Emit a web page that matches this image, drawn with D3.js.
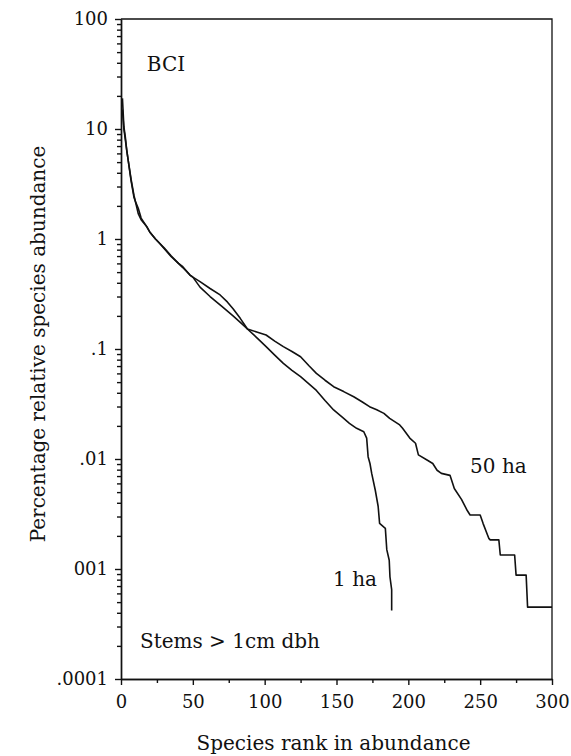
<!DOCTYPE html>
<html>
<head>
<meta charset="utf-8">
<script src="https://cdn.jsdelivr.net/npm/d3@7"></script>
<style>
  body { margin: 0; background: #fff; }
  text { font-family: "DejaVu Serif", serif; fill: #111; }
</style>
</head>
<body>
<svg id="canvas"></svg>
<script>
// 50 ha plot, rank vs percentage of stems
let rank50 = [1, 2, 3, 4, 5, 7, 9, 10, 12, 14, 18, 20, 24, 27, 30, 35, 40, 43, 48, 50,
    55, 62, 70, 78, 84, 88, 95, 101, 107, 113, 119, 125, 131, 136, 142, 148, 155, 162, 168, 173,
    178, 183, 187, 194, 196, 201, 205, 207, 213, 217, 220, 223, 229, 232, 237, 241, 243, 250,
    252, 256, 257, 263, 264, 274, 275, 282, 283, 300]
let pct50 = [19, 10.5, 8.5, 6.4, 5.2, 3.5, 2.5, 2.2, 1.7, 1.5, 1.29, 1.16, 1.0, 0.91, 0.82, 0.69, 0.6, 0.56, 0.47, 0.45,
    0.365, 0.3, 0.245, 0.2, 0.17, 0.152, 0.142, 0.134, 0.118, 0.105, 0.095, 0.085, 0.07, 0.06, 0.052, 0.0454, 0.041, 0.0368, 0.033, 0.0299,
    0.028, 0.026, 0.0234, 0.0204, 0.019, 0.0155, 0.0139, 0.0109, 0.0098, 0.0091, 0.0079, 0.0074, 0.0071, 0.0054, 0.0043, 0.0034, 0.0031, 0.0031,
    0.0026, 0.0019, 0.00184, 0.00184, 0.00134, 0.00134, 0.00088, 0.00088, 0.00045, 0.00045]

// 1 ha plot
let rank1 = [1, 2, 3, 4, 5, 7, 9, 10, 12, 14, 18, 20, 24, 27, 30, 35, 40, 43, 48, 50,
    55, 62, 69, 74, 78, 83, 88, 95, 101, 107, 113, 119, 125, 131, 136, 142, 148, 154, 159, 164,
    169, 171, 172, 173.3, 174.5, 177, 179, 180, 184, 185, 186.7, 187.2, 188.4, 188.4]
let pct1 = [15, 10, 8.0, 6.4, 5.2, 3.4, 2.4, 2.2, 1.9, 1.55, 1.29, 1.16, 1.0, 0.91, 0.83, 0.7, 0.6, 0.55, 0.47, 0.45,
    0.41, 0.355, 0.31, 0.268, 0.232, 0.19, 0.152, 0.125, 0.105, 0.088, 0.074, 0.064, 0.056, 0.048, 0.042, 0.034, 0.0279, 0.024, 0.0211, 0.019,
    0.0177, 0.0155, 0.0105, 0.0091, 0.0074, 0.0052, 0.0037, 0.0026, 0.00234, 0.0015, 0.0012, 0.00085, 0.00065, 0.00042]

let yTicks = [100, 10, 1, 0.1, 0.01, 0.001, 0.0001]
let yTickLabels = ['100', '10', '1', '.1', '.01', '001', '.0001']
let xTicks = [0, 50, 100, 150, 200, 250, 300]
let xMinorTicks = [25, 75, 125, 175, 225, 275]

let width = 571
let height = 756
let plotLeft = 121
let plotRight = 552
let plotTop = 19
let plotBottom = 679
let serif = '"DejaVu Serif", serif'

let canvas = d3.select('#canvas')
    .attr('width', width)
    .attr('height', height)

let xScale = d3.scaleLinear().domain([0, 300]).range([plotLeft, plotRight])
let yScale = d3.scaleLog().domain([0.0001, 100]).range([plotBottom, plotTop])

let yMinor = []
yTicks.slice(1).forEach((d) => {
    for (let k = 2; k <= 9; k++) yMinor.push(d * k)
})

let drawAxes = () => {
    let yAxis = d3.axisLeft(yScale)
        .tickValues(yTicks)
        .tickFormat((d, i) => yTickLabels[i])
        .tickSize(6)
        .tickPadding(7)
        .tickSizeOuter(0)
    let yAxisMinor = d3.axisLeft(yScale)
        .tickValues(yMinor)
        .tickFormat('')
        .tickSize(4)
        .tickSizeOuter(0)
    let xAxis = d3.axisBottom(xScale)
        .tickValues(xTicks)
        .tickSize(6)
        .tickPadding(10)
        .tickSizeOuter(0)
    let xAxisMinor = d3.axisBottom(xScale)
        .tickValues(xMinorTicks)
        .tickFormat('')
        .tickSize(4)
        .tickSizeOuter(0)

    canvas.append('g').attr('transform', 'translate(' + plotLeft + ',0)').call(yAxisMinor)
    canvas.append('g').attr('id', 'y-axis').attr('transform', 'translate(' + plotLeft + ',0)').call(yAxis)
    canvas.append('g').attr('transform', 'translate(0,' + plotBottom + ')').call(xAxisMinor)
    canvas.append('g').attr('id', 'x-axis').attr('transform', 'translate(0,' + plotBottom + ')').call(xAxis)

    canvas.selectAll('g').attr('font-family', serif)
    canvas.selectAll('.domain, .tick line')
        .attr('stroke', '#111')
        .attr('stroke-width', 1.4)
    canvas.selectAll('.tick text')
        .attr('font-family', serif)
        .style('font-size', '18px')
        .attr('fill', '#111')

    // top and right frame
    canvas.append('path')
        .attr('d', 'M' + plotLeft + ',' + plotTop + 'H' + plotRight + 'V' + plotBottom)
        .attr('fill', 'none')
        .attr('stroke', '#111')
        .attr('stroke-width', 1.3)
}

let drawCurves = () => {
    let line = d3.line()
        .x((d) => xScale(d[0]))
        .y((d) => yScale(d[1]))
    let series = [d3.zip(rank50, pct50), d3.zip(rank1, pct1)]
    canvas.selectAll('.curve')
        .data(series)
        .enter()
        .append('path')
        .attr('class', 'curve')
        .attr('d', line)
        .attr('fill', 'none')
        .attr('stroke', '#111')
        .attr('stroke-width', 1.6)
        .attr('stroke-linejoin', 'round')
}

let drawText = () => {
    let note = (txt, r, v) => {
        canvas.append('text')
            .attr('x', xScale(r))
            .attr('y', yScale(v))
            .attr('font-family', serif)
            .style('font-size', '20px')
            .text(txt)
    }
    note('BCI', 18, 34)
    note('50 ha', 243, 0.00746)
    note('1 ha', 147.6, 0.0007)
    note('Stems > 1cm dbh', 13.2, 0.000191)

    canvas.append('text')
        .attr('x', (plotLeft + plotRight) / 2 - 3)
        .attr('y', 750)
        .attr('text-anchor', 'middle')
        .attr('font-family', serif)
        .style('font-size', '20px')
        .text('Species rank in abundance')
    canvas.append('text')
        .attr('transform', 'translate(45,344) rotate(-90)')
        .attr('text-anchor', 'middle')
        .attr('font-family', serif)
        .style('font-size', '20px')
        .text('Percentage relative species abundance')
}

drawAxes()
drawCurves()
drawText()
</script>
</body>
</html>
